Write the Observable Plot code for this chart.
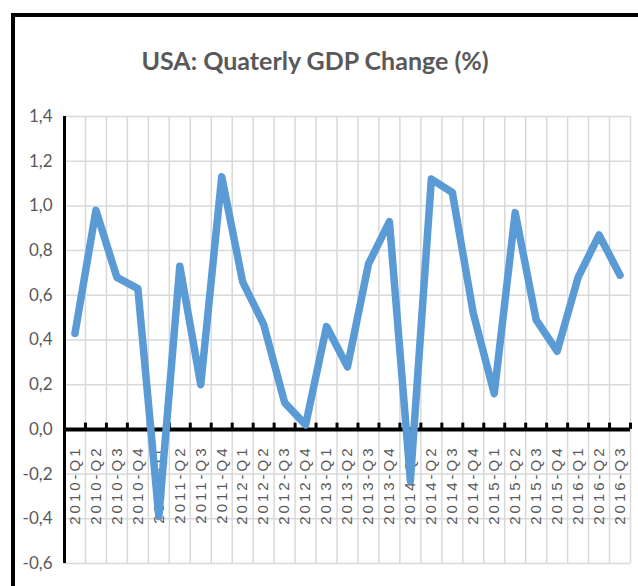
<!DOCTYPE html>
<html>
<head>
<meta charset="utf-8">
<script src="https://cdn.jsdelivr.net/npm/d3@7"></script>
<script src="https://cdn.jsdelivr.net/npm/@observablehq/plot@0.6"></script>
<style>
  html, body { margin: 0; padding: 0; background: #fff; }
  #wrap { position: relative; width: 638px; height: 586px; overflow: hidden; }
  #frame { position: absolute; left: 11px; top: 13px; width: 700px; height: 700px;
           border-top: 4px solid #000; border-left: 4px solid #000; }
  #title { position: absolute; left: 0; width: 630px; top: 45px; text-align: center;
           font-family: Lato, "DejaVu Sans Condensed", sans-serif;
           font-size: 25px; font-weight: bold; color: #595959; }
  #chart { position: absolute; left: 0; top: 0; }
</style>
</head>
<body>
<div id="wrap">
  <div id="frame"></div>
  <div id="chart"></div>
  <div id="title">USA: Quaterly GDP Change (%)</div>
</div>
<script>
const quarters = ["2010-Q1","2010-Q2","2010-Q3","2010-Q4","2011-Q1","2011-Q2","2011-Q3","2011-Q4",
  "2012-Q1","2012-Q2","2012-Q3","2012-Q4","2013-Q1","2013-Q2","2013-Q3","2013-Q4",
  "2014-Q1","2014-Q2","2014-Q3","2014-Q4","2015-Q1","2015-Q2","2015-Q3","2015-Q4",
  "2016-Q1","2016-Q2","2016-Q3"];
const gdpChange = [0.43, 0.98, 0.68, 0.63, -0.39, 0.73, 0.20, 1.13,
  0.66, 0.47, 0.12, 0.02, 0.46, 0.28, 0.74, 0.93,
  -0.23, 1.12, 1.06, 0.52, 0.16, 0.97, 0.49, 0.35,
  0.68, 0.87, 0.69];
const yTicks = [-0.6, -0.4, -0.2, 0, 0.2, 0.4, 0.6, 0.8, 1.0, 1.2, 1.4];

const data = quarters.map((q, i) => ({q, i: i + 0.5, v: gdpChange[i]}));
const bounds = d3.range(0, quarters.length + 1);
const fmt = d => d3.format(".1f")(d).replace("−", "-").replace(".", ",");

const chart = Plot.plot({
  width: 638,
  height: 586,
  marginTop: 116,
  marginBottom: 23,
  marginLeft: 64,
  marginRight: 8,
  style: {background: "transparent", overflow: "visible"},
  x: {domain: [0, quarters.length], axis: null},
  y: {domain: [-0.6, 1.4], axis: null},
  marks: [
    Plot.ruleY(yTicks, {stroke: "#d9d9d9", strokeWidth: 1.5, strokeOpacity: 1}),
    Plot.ruleX(bounds, {y1: -0.6, y2: 1.4, stroke: "#d9d9d9", strokeWidth: 1.5}),
    Plot.text(yTicks, {x: 0, y: d => d, text: fmt, textAnchor: "end", dx: -12,
      fill: "#595959", fontSize: 17, fontFamily: "Lato, sans-serif"}),
    Plot.text(data, {x: "i", y: 0, text: "q", rotate: -90, textAnchor: "end", dy: 16,
      fill: "#595959", fontSize: 15, fontFamily: "Liberation Sans, Arial, sans-serif"}),
    Plot.ruleX([0], {y1: -0.6, y2: 1.4, stroke: "#000", strokeWidth: 3}),
    Plot.ruleY([0], {stroke: "#000", strokeWidth: 4}),
    Plot.ruleX(bounds, {y1: 0, y2: 0.028, stroke: "#000", strokeWidth: 3}),
    Plot.line(data, {x: "i", y: "v", stroke: "#5B9BD5", strokeWidth: 7.5,
      strokeLinejoin: "round", strokeLinecap: "round"})
  ]
});
d3.select(chart).selectAll("text")
  .filter(function() { return /Q\d$/.test(this.textContent); })
  .style("letter-spacing", "3px");
document.getElementById("chart").appendChild(chart);
</script>
</body>
</html>
